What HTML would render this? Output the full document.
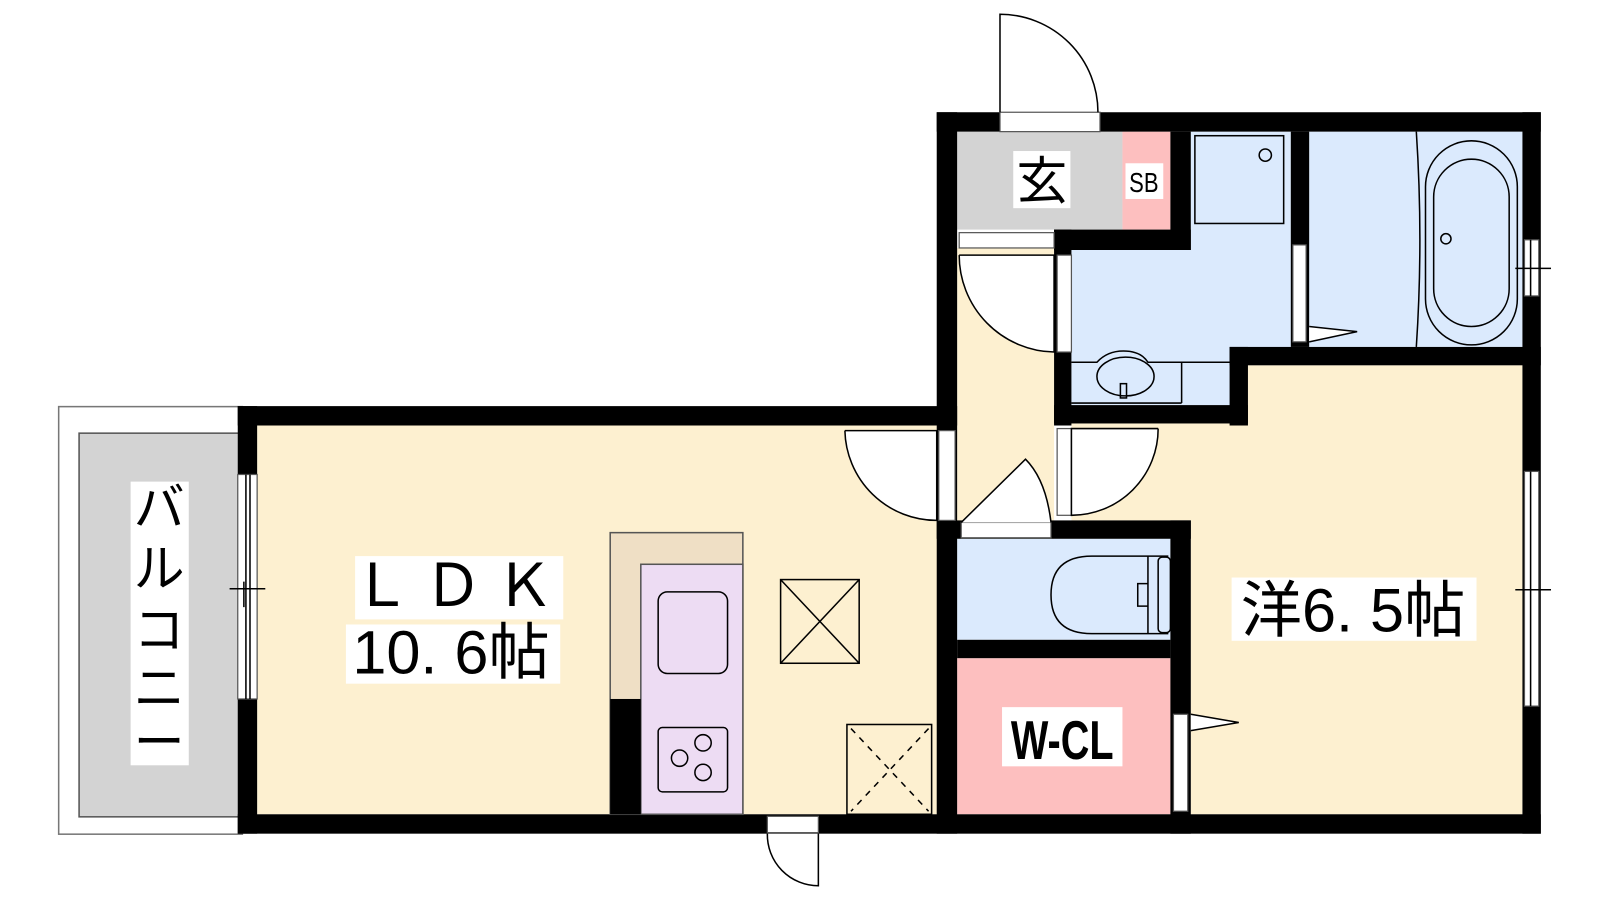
<!DOCTYPE html>
<html><head><meta charset="utf-8"><style>
html,body{margin:0;padding:0;background:#fff}
svg{display:block}
text{font-family:"Liberation Sans","Noto Sans CJK JP",sans-serif}
</style></head><body>
<svg width="1600" height="900" viewBox="0 0 1600 900" xmlns="http://www.w3.org/2000/svg">
<g transform="scale(1.0204)">
<!-- balcony -->
<rect x="57.5" y="398.5" width="180" height="419" fill="#fff" stroke="#777" stroke-width="1.5"/>
<rect x="77.5" y="424.5" width="160" height="376" fill="#d3d3d3" stroke="#555" stroke-width="1.5"/>
<rect x="128" y="472" width="57" height="278" fill="#fff"/>
<text font-size="50" fill="#000" text-anchor="middle"><tspan x="156" y="515">バ</tspan><tspan x="156" y="575">ル</tspan><tspan x="156" y="635">コ</tspan><tspan x="156" y="692">ニ</tspan><tspan x="156" y="745">ー</tspan></text>

<!-- floors -->
<rect x="252" y="417" width="670" height="381" fill="#fdf0d0"/>
<rect x="938" y="243" width="95" height="285" fill="#fdf0d0"/>
<path d="M1223 358 H1492 V798 H1167 V510 H1050 V415 H1223 Z" fill="#fdf0d0"/>
<rect x="938" y="129" width="162" height="96" fill="#d3d3d3"/>
<rect x="1100" y="129" width="47" height="96" fill="#fdbfbf"/>
<path d="M1167 129 H1265 V345 H1208 V397 H1050 V245 H1167 Z" fill="#dbeafd"/>
<rect x="1283" y="129" width="209" height="211" fill="#dbeafd"/>
<rect x="938" y="528" width="209" height="99" fill="#dbeafd"/>
<rect x="938" y="645" width="209" height="153" fill="#fdbfbf"/>

<!-- walls -->
<g fill="#000">
<rect x="233" y="398" width="705" height="19"/>
<rect x="233" y="398" width="19" height="419"/>
<rect x="233" y="798" width="1277" height="19"/>
<rect x="918" y="110" width="592" height="19"/>
<rect x="918" y="110" width="20" height="707"/>
<rect x="1492" y="110" width="18" height="707"/>
<rect x="1147" y="129" width="20" height="116"/>
<rect x="1033" y="225" width="134" height="20"/>
<rect x="1033" y="225" width="17" height="192"/>
<rect x="1265" y="129" width="18" height="211"/>
<rect x="1205" y="340" width="305" height="18"/>
<rect x="1205" y="340" width="18" height="77"/>
<rect x="1033" y="397" width="190" height="18"/>
<rect x="918" y="510" width="249" height="18"/>
<rect x="1147" y="510" width="20" height="307"/>
<rect x="938" y="627" width="209" height="18"/>
<rect x="598" y="685" width="30" height="113"/>
</g>

<!-- openings -->
<g fill="#fff" stroke="#555" stroke-width="1.2">
<rect x="980" y="110" width="98" height="19"/>
<rect x="940" y="228" width="93" height="15"/>
<rect x="1036" y="250" width="14" height="95"/>
<rect x="1267" y="240" width="13" height="95"/>
<rect x="920" y="422" width="16" height="88"/>
<rect x="1036" y="420" width="14" height="85"/>
<rect x="942" y="512" width="88" height="15"/>
<rect x="1150" y="700" width="14" height="95"/>
<rect x="752" y="800" width="50" height="16"/>
<rect x="233" y="465" width="19" height="220"/>
<rect x="1494" y="235" width="14" height="55"/>
<rect x="1494" y="462" width="14" height="230"/>
</g>
<g stroke="#000" stroke-width="1.5" fill="none">
<line x1="241" y1="465" x2="241" y2="685"/><line x1="245" y1="465" x2="245" y2="685"/>
<line x1="225" y1="577" x2="260" y2="577"/><line x1="239" y1="570" x2="239" y2="595"/>
<line x1="1500" y1="462" x2="1500" y2="692"/><line x1="1485" y1="578" x2="1520" y2="578"/>
<line x1="1500" y1="235" x2="1500" y2="290"/><line x1="1485" y1="263" x2="1520" y2="263"/>
<!-- doors -->
<path d="M980 110 V14 A96 96 0 0 1 1076 110"/>
<path d="M940 250 H1033 V345 A95 95 0 0 1 940 250" fill="#fff"/>
<path d="M828 422 H918 V510 A90 90 0 0 1 828 422" fill="#fff"/>
<path d="M1135 420 H1050 V505 A85 85 0 0 0 1135 420" fill="#fff"/>
<path d="M942 512 L1005 450 Q1025 470 1030 512" fill="#fff"/>
<path d="M802 817 V868 A50 50 0 0 1 752 817" />
<path d="M1283 320 L1330 325 L1283 335" fill="#fff"/>
<path d="M1167 700 L1214 708 L1167 716" fill="#fff"/>
<!-- fixtures -->
<rect x="1171" y="133" width="87" height="86"/>
<circle cx="1240" cy="152" r="6"/>
<rect x="1397" y="138" width="90" height="200" rx="45"/>
<rect x="1405" y="156" width="74" height="164" rx="37"/>
<circle cx="1417" cy="234" r="5"/>
<path d="M1388 129 Q1395 235 1388 340"/>
<path d="M1050 355 H1075 Q1085 344 1101 344 Q1118 344 1125 355 H1158 V395 M1050 395 H1158 M1158 355 H1205"/>
<ellipse cx="1103" cy="369" rx="28" ry="19"/>
<rect x="1098" y="376" width="6" height="14"/>
<path d="M1145 545 H1070 Q1030 545 1030 583 Q1030 621 1070 621 H1145"/>
<path d="M1125 545 V621 M1125 572 H1115 V594 H1125"/>
<rect x="1135" y="546" width="12" height="74" rx="4"/>
<!-- kitchen -->
<rect x="598" y="522" width="130" height="276" fill="#efdfc5" stroke="#555"/>
<rect x="628" y="553" width="100" height="245" fill="#eddcf3" stroke="#555"/>
<rect x="645" y="580" width="68" height="80" rx="9"/>
<rect x="645" y="713" width="68" height="63" rx="4"/>
<circle cx="666" cy="743" r="8"/><circle cx="689" cy="728" r="8"/><circle cx="689" cy="757" r="8"/>
<rect x="765" y="568" width="77" height="82"/>
<path d="M765 568 L842 650 M842 568 L765 650"/>
<rect x="830" y="710" width="83" height="88"/>
<path d="M834 714 L910 795 M910 714 L834 795" stroke-dasharray="6 6"/>
</g>
<rect x="598" y="685" width="30" height="113" fill="#000"/>

<!-- labels -->
<rect x="993" y="148" width="56" height="56" fill="#fff"/>
<text x="1021" y="195" font-size="50" text-anchor="middle">玄</text>
<rect x="1103" y="160" width="37" height="35" fill="#fff"/>
<text x="1121" y="188" font-size="27" text-anchor="middle" transform="translate(1121 0) scale(0.8 1) translate(-1121 0)">SB</text>
<rect x="348" y="545" width="204" height="62" fill="#fff"/>
<text x="450" y="594" font-size="58" text-anchor="middle" letter-spacing="12">ＬＤＫ</text>
<rect x="339" y="612" width="210" height="58" fill="#fff"/>
<text x="442" y="660" font-size="60" text-anchor="middle">10. 6帖</text>
<rect x="1207" y="566" width="240" height="62" fill="#fff"/>
<text x="1326" y="619" font-size="60" text-anchor="middle">洋6. 5帖</text>
<rect x="982" y="693" width="118" height="58" fill="#fff"/>
<text x="1041" y="744" font-size="54" font-weight="bold" text-anchor="middle" transform="translate(1041 0) scale(0.72 1) translate(-1041 0)">W-CL</text>
</g>
</svg>
</body></html>
